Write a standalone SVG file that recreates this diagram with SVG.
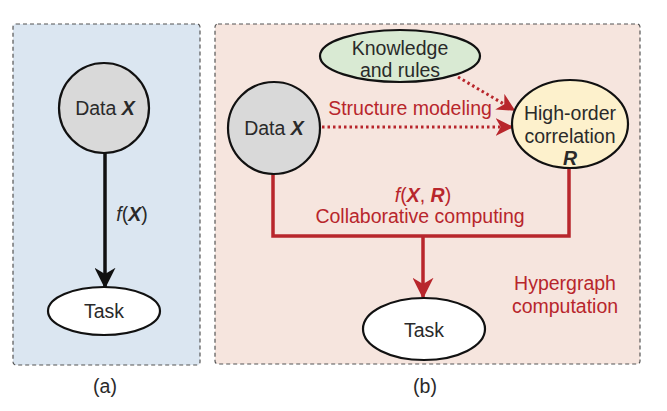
<svg xmlns="http://www.w3.org/2000/svg" width="667" height="411" viewBox="0 0 667 411">
  <defs>
    <marker id="arrBlack" viewBox="0 0 12 12" refX="11" refY="6" markerWidth="6" markerHeight="6" markerUnits="strokeWidth" orient="auto">
      <path d="M0,0 L12,6 L0,12 L3.5,6 z" fill="#111"/>
    </marker>
    <marker id="arrRed" viewBox="0 0 12 12" refX="11" refY="6" markerWidth="6" markerHeight="6" markerUnits="strokeWidth" orient="auto">
      <path d="M0,0 L12,6 L0,12 L3.5,6 z" fill="#b8262c"/>
    </marker>
    <marker id="arrRedDot" viewBox="0 0 12 12" refX="11" refY="6" markerWidth="6" markerHeight="6" markerUnits="strokeWidth" orient="auto">
      <path d="M0,0 L12,6 L0,12 L3.5,6 z" fill="#b8262c"/>
    </marker>
  </defs>
  <style>
    text { font-family: "Liberation Sans", Arial, sans-serif; font-size: 19.5px; text-anchor: middle; fill: #2a2a2a; }
    .red { fill: #b8262c; }
    .panel { stroke: #555; stroke-width: 1.2; stroke-dasharray: 4 3; }
    .node { stroke: #111; stroke-width: 2.2; }
    .solid { stroke: #b8262c; stroke-width: 3.5; fill: none; }
    .dotted { stroke: #b8262c; stroke-width: 3; fill: none; stroke-dasharray: 2.5 3; }
    .b { font-weight: bold; font-style: italic; }
    .i { font-style: italic; }
  </style>
  <rect width="667" height="411" fill="#ffffff"/>

  <g id="panel-a">
    <rect class="panel" x="13" y="24" width="187" height="341" rx="3" fill="#dbe6f1"/>
    <text x="105" y="393">(a)</text>
  </g>
  <g id="panel-b">
    <rect class="panel" x="215" y="24" width="425" height="340" rx="3" fill="#f6e5de"/>
    <text x="425" y="393">(b)</text>
    <text class="red" x="565" y="290">Hypergraph</text>
    <text class="red" x="565" y="313">computation</text>
  </g>

  <g id="connectors">
    <line x1="105" y1="152" x2="105" y2="287" stroke="#111" stroke-width="3.5" marker-end="url(#arrBlack)"/>
    <text x="132" y="221"><tspan class="i">f</tspan>(<tspan class="b">X</tspan>)</text>
    <polyline class="solid" points="273,173 273,236 569,236 569,168"/>
    <line class="solid" x1="423" y1="236" x2="423" y2="297" marker-end="url(#arrRed)"/>
    <line class="dotted" x1="322" y1="127" x2="512" y2="127" marker-end="url(#arrRedDot)"/>
    <line class="dotted" x1="458" y1="77" x2="514" y2="110" marker-end="url(#arrRedDot)"/>
    <text class="red" x="410" y="115">Structure modeling</text>
    <text class="red" x="423" y="202"><tspan class="i">f</tspan>(<tspan class="b">X</tspan>, <tspan class="b">R</tspan>)</text>
    <text class="red" x="420" y="223">Collaborative computing</text>
  </g>

  <g id="a-data">
    <circle class="node" cx="104" cy="108" r="45" fill="#d9d9d9"/>
    <text x="105" y="115">Data <tspan class="b">X</tspan></text>
  </g>
  <g id="a-task">
    <ellipse class="node" cx="104" cy="311" rx="56" ry="24" fill="#ffffff"/>
    <text x="104" y="318">Task</text>
  </g>

  <g id="b-knowledge">
    <ellipse class="node" cx="400" cy="56" rx="80" ry="26" fill="#d9ead3"/>
    <text x="400" y="55">Knowledge</text>
    <text x="400" y="77">and rules</text>
  </g>
  <g id="b-data">
    <circle class="node" cx="274" cy="128" r="46" fill="#d9d9d9"/>
    <text x="274" y="135">Data <tspan class="b">X</tspan></text>
  </g>
  <g id="b-highorder">
    <ellipse class="node" cx="570" cy="124" rx="58" ry="44" fill="#fdf1cc"/>
    <text x="570" y="120">High-order</text>
    <text x="570" y="143">correlation</text>
    <text class="b" x="570" y="165">R</text>
  </g>
  <g id="b-task">
    <ellipse class="node" cx="424" cy="329" rx="61" ry="31" fill="#ffffff"/>
    <text x="424" y="337">Task</text>
  </g>
</svg>
